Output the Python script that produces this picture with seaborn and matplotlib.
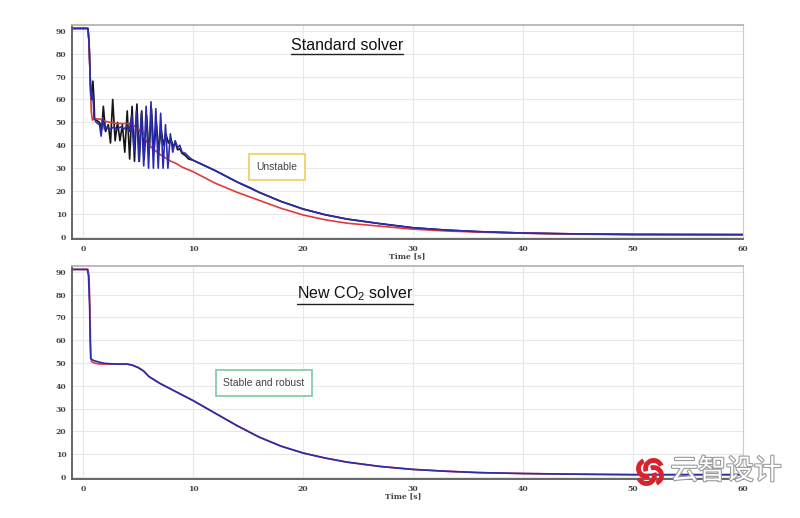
import numpy as np
import pandas as pd
import matplotlib
matplotlib.use("Agg")
import matplotlib.pyplot as plt
import matplotlib.patheffects as pe
from matplotlib.patches import Arc
import seaborn as sns

# ---------------- data ----------------
top_black_t = [-1, 0.45, 0.55, 0.65, 0.72, 0.8, 0.9, 1.0, 1.05, 1.2, 1.5, 1.7, 1.85, 2.05, 2.3, 2.5,
               2.7, 2.92, 3.14, 3.36, 3.58, 3.8, 4.02, 4.24, 4.46, 4.68, 4.9, 5.12, 5.34, 5.56,
               5.78, 6.0, 6.22, 6.44, 6.66, 6.88, 7.1, 7.32, 7.54, 7.76, 7.98, 8.2, 8.4, 8.6,
               8.8, 9.0, 9.3, 9.6, 10, 12, 14, 16, 18, 20, 22, 24, 27, 30, 33, 36, 40, 45, 50, 60]
top_black_y = [91, 91, 85, 70, 60, 62, 68, 60, 52, 51, 50, 47, 57, 46, 49, 41,
               60, 42, 50, 42, 49, 37, 55, 34, 57, 33, 58, 33, 55, 34,
               53, 36, 56, 37, 50, 38, 47, 40, 45, 41, 43, 39.5, 41, 38,
               38.5, 36.5, 35.5, 34, 33.5, 29, 24, 19.5, 15.5, 12.2, 9.7, 7.8, 5.8, 4.0, 3.0, 2.3,
               1.7, 1.3, 1.1, 1.0]

top_blue_t = [-1, 0.45, 0.55, 0.65, 0.72, 0.78, 0.85, 0.95, 1.0, 1.2, 1.5, 1.65, 1.8, 1.95, 2.2,
              2.5, 2.8, 3.1, 3.4, 3.7, 4.0, 4.2, 4.42, 4.64, 4.86, 5.08, 5.3, 5.52, 5.74, 5.96,
              6.18, 6.4, 6.62, 6.84, 7.06, 7.28, 7.5, 7.72, 7.94, 8.16, 8.38, 8.6, 8.8, 9.0, 9.3,
              9.6, 10, 12, 14, 15.2, 16, 18, 20, 22, 24, 27, 30, 33, 36, 40, 45, 50, 60]
top_blue_y = [91, 91, 85, 70, 62, 60, 63, 58, 52, 50, 49, 44, 52, 47, 48,
              47, 48, 47, 48, 47, 48.5, 46, 53, 37, 55, 33, 54, 31, 57, 30,
              59, 30, 56, 30, 54, 30, 49, 30, 45, 37, 42, 39, 40, 37, 36.5,
              35, 33.5, 29, 24, 21.5, 19.5, 15.5, 12.2, 9.7, 7.8, 5.8, 4.0, 3.0, 2.3, 1.7, 1.3, 1.1, 1.0]

top_red_t = [-1, 0.45, 0.55, 0.65, 0.75, 0.85, 1.0, 1.5, 2.0, 2.5, 3.0, 4.0, 4.5, 5.0, 5.5, 6.0,
             6.5, 7.0, 7.5, 8.0, 8.5, 9.0, 10, 12, 14, 16, 18, 20, 22, 24, 27, 30, 33, 36, 40,
             45, 50, 60]
top_red_y = [91, 91, 85, 70, 55, 51, 51.5, 51.5, 50.5, 50, 49.5, 49.5, 49, 47.5, 44, 40,
             38, 36, 34.5, 33, 32, 30.5, 28.5, 23.5, 19.5, 16, 12.5, 9.6, 7.5, 6.0, 4.7, 3.4, 2.6, 2.1, 1.6,
             1.2, 1.0, 1.0]

bot_blue_t = [-1, 0.4, 0.5, 0.6, 0.65, 0.7, 0.8, 1.0, 1.5, 2.0, 3.0, 4.0, 4.5, 5.0, 5.5, 6.0,
              6.5, 7.0, 8.0, 9.0, 10, 12, 14, 16, 18, 20, 22, 24, 27, 30, 33, 36, 40, 45, 50, 60]
bot_blue_y = [91, 91, 88, 75, 60, 52, 51.5, 51, 50.3, 49.8, 49.5, 49.5, 49, 48, 46.5, 44,
              42.5, 41, 38.5, 36, 33.5, 28, 22.5, 17.5, 13.5, 10.5, 8.3, 6.5, 4.6, 3.3, 2.5, 1.9, 1.5,
              1.2, 1.0, 1.0]

bot_red_t = [-1, 0.45, 0.55, 0.62, 0.68, 0.72, 0.8, 1.0, 1.5, 2.0, 3.0, 4.0, 4.5, 5.0, 5.5, 6.0,
             6.5, 7.0, 8.0, 9.0, 10, 12, 14, 16, 18, 20, 22, 24, 27, 30, 33, 36, 40, 45, 50, 60]
bot_red_y = [91, 91, 88, 75, 60, 52, 50.5, 50, 49.5, 49.5, 49.5, 49.5, 49, 48, 46.5, 44,
             42.5, 41, 38.5, 36, 33.5, 28, 22.5, 17.5, 13.5, 10.5, 8.3, 6.5, 4.6, 3.3, 2.5, 1.9, 1.5,
             1.2, 1.0, 1.0]

x_ticks = [0, 10, 20, 30, 40, 50, 60]
y_ticks = [0, 10, 20, 30, 40, 50, 60, 70, 80, 90]
x_label = "Time [s]"
top_title = "Standard solver"
bot_title = "New CO$_2$ solver"
top_note = "Unstable"
bot_note = "Stable and robust"
watermark = "云智设计"

# ---------------- frames ----------------
def frame(pairs):
    parts = []
    for name, t, y in pairs:
        parts.append(pd.DataFrame({"t": t, "v": y, "s": name}))
    return pd.concat(parts, ignore_index=True)

top_df = frame([("black", top_black_t, top_black_y),
                ("red", top_red_t, top_red_y),
                ("blue", top_blue_t, top_blue_y)])
bot_df = frame([("red", bot_red_t, bot_red_y),
                ("blue", bot_blue_t, bot_blue_y)])

palette = {"black": "#151515", "red": "#e23a3a", "blue": "#2b2bb0"}

sns.set_theme(style="white")
plt.rcParams["font.family"] = ["Liberation Sans", "DejaVu Sans"]
plt.rcParams["mathtext.fontset"] = "custom"
plt.rcParams["mathtext.rm"] = "Liberation Sans"
plt.rcParams["mathtext.it"] = "Liberation Sans"

W, H = 800, 518
fig = plt.figure(figsize=(W / 100, H / 100), dpi=100)
fig.patch.set_facecolor("white")

def px_rect(l, t, r, b):
    return [l / W, 1 - b / H, (r - l) / W, (b - t) / H]

ax1 = fig.add_axes(px_rect(72, 25, 743, 239))
ax2 = fig.add_axes(px_rect(72, 266, 743, 479))

for ax, df in ((ax1, top_df), (ax2, bot_df)):
    sns.lineplot(data=df, x="t", y="v", hue="s", palette=palette, sort=False,
                 estimator=None, legend=False, linewidth=1.2, ax=ax)
    ax.set_xlim(-1, 60)
    ax.set_ylim(-0.9, 92.5)
    ax.set_xticks(x_ticks)
    ax.set_yticks(y_ticks)
    ax.set_xticklabels([str(v) for v in x_ticks], fontsize=5.5, fontweight="bold",
                       color="#444444", family="DejaVu Serif")
    ax.set_yticklabels([str(v) for v in y_ticks], fontsize=5.5, fontweight="bold",
                       color="#444444", family="DejaVu Serif")
    ax.tick_params(axis="both", length=0, pad=4)
    ax.set_xlabel("")
    ax.set_ylabel("")
    ax.grid(True, color="#e8e8e8", linewidth=0.8)
    ax.set_axisbelow(True)
    ax.spines["left"].set_color("#5a5a5a")
    ax.spines["bottom"].set_color("#5a5a5a")
    ax.spines["left"].set_linewidth(1.3)
    ax.spines["bottom"].set_linewidth(1.3)
    ax.spines["top"].set_color("#b5b5b5")
    ax.spines["right"].set_color("#cccccc")
    ax.spines["top"].set_linewidth(1.3)
    ax.spines["right"].set_linewidth(0.8)

# x labels
fig.text(407 / W, 1 - 256 / H, x_label, fontsize=5.5, fontweight="bold", color="#444444",
         family="DejaVu Serif", ha="center", va="center")
fig.text(403 / W, 1 - 496 / H, x_label, fontsize=5.5, fontweight="bold", color="#444444",
         family="DejaVu Serif", ha="center", va="center")

# titles with underline
titles = []
titles.append(fig.text(347 / W, 1 - 45 / H, top_title, fontsize=11.5, color="#111111",
                       ha="center", va="center"))
titles.append(fig.text(355 / W, 1 - 294 / H, bot_title, fontsize=11.5, color="#111111",
                       ha="center", va="center"))

# notes
fig.text(277 / W, 1 - 167 / H, top_note, fontsize=7.5, color="#444444", ha="center", va="center",
         bbox=dict(boxstyle="square,pad=0.75", facecolor="white", edgecolor="#f0d26a", linewidth=1.3))
fig.text(264 / W, 1 - 383 / H, bot_note, fontsize=7.5, color="#444444", ha="center", va="center",
         bbox=dict(boxstyle="square,pad=0.75", facecolor="white", edgecolor="#86cfa8", linewidth=1.3))

fig.canvas.draw()
renderer = fig.canvas.get_renderer()
for txt, ybase in zip(titles, (53.5, 303.5)):
    bb = txt.get_window_extent(renderer)
    y = 1 - ybase / H
    fig.add_artist(plt.Line2D([bb.x0 / W, bb.x1 / W], [y, y], color="#222222", linewidth=1.0,
                              transform=fig.transFigure))

# watermark logo (red pinwheel) and text
lcx, lcy = 650, H - 472
for k, ang in enumerate((0, 90, 180, 270)):
    ox = 5 * np.cos(np.radians(ang + 45))
    oy = 5 * np.sin(np.radians(ang + 45))
    a = Arc((lcx + ox, lcy + oy), 16, 16, angle=ang, theta1=20, theta2=200, color="#d8232a",
            linewidth=3.5, transform=None)
    fig.add_artist(a)
fig.text(726 / W, 1 - 471 / H, watermark, fontsize=20, color="white",
         family=["Noto Sans CJK SC", "DejaVu Sans"], ha="center", va="center",
         path_effects=[pe.withStroke(linewidth=1.6, foreground="#9a9a9a")])

fig.savefig("out.png", dpi=100, facecolor="white")
